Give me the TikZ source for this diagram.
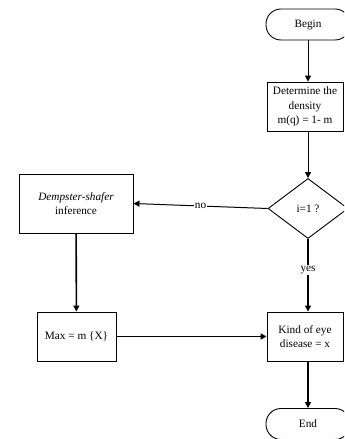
\documentclass[tikz,border=0pt]{standalone}
\usepackage{fontspec}
\setmainfont{Liberation Serif}
\usetikzlibrary{shapes.geometric,arrows.meta}
\begin{document}
\begin{tikzpicture}[x=1bp,y=-1bp,
  font=\fontsize{11.3}{14.5}\selectfont,
  boxnode/.style={draw,line width=0.9bp,rectangle,align=center,inner sep=1bp},
  term/.style={draw,line width=0.9bp,rectangle,rounded corners=15bp,minimum width=84bp,minimum height=31bp},
  decide/.style={draw,line width=0.9bp,diamond,minimum width=80bp,minimum height=60bp,inner sep=0pt},
  arr/.style={line width=1bp,-{Triangle[length=6bp,width=6bp]}},
  thickarr/.style={arr,line width=1.6bp},
  lbl/.style={fill=white,inner sep=1bp}]
\useasboundingbox (0,0) rectangle (344,439);
\clip (0,0) rectangle (344,439);
\node[term] (begin) at (308,24.5) {Begin};
\node[boxnode,minimum width=76bp,minimum height=49bp] (det) at (305,106.5) {Determine the\\density\\m(q) = 1- m};
\node[decide] (dec) at (308,208.5) {i=1 ?};
\node[boxnode,minimum width=114bp,minimum height=59bp] (dem) at (76,203.5) {\textit{Dempster-shafer}\\inference};
\node[boxnode,minimum width=79bp,minimum height=49bp] (max) at (76.5,336.5) {Max = m \{X\}};
\node[boxnode,minimum width=76bp,minimum height=49bp] (kind) at (305,336.5) {Kind of eye\\disease = x};
\node[term] (end) at (308,424) {End};
\draw[arr] (begin.south) -- (begin.south |- det.north);
\draw[arr] (dec.north |- det.south) -- (dec.north);
\draw[arr] (dec.west) -- node[lbl,pos=0.5]{no} (dem.east);
\draw[thickarr] (dem) -- (max);
\draw[thickarr] (dec.south) -- node[lbl,pos=0.43]{yes} (dec.south |- kind.north);
\draw[thickarr] (max) -- (kind);
\draw[thickarr] (end.north |- kind.south) -- (end.north);
\end{tikzpicture}
\end{document}
